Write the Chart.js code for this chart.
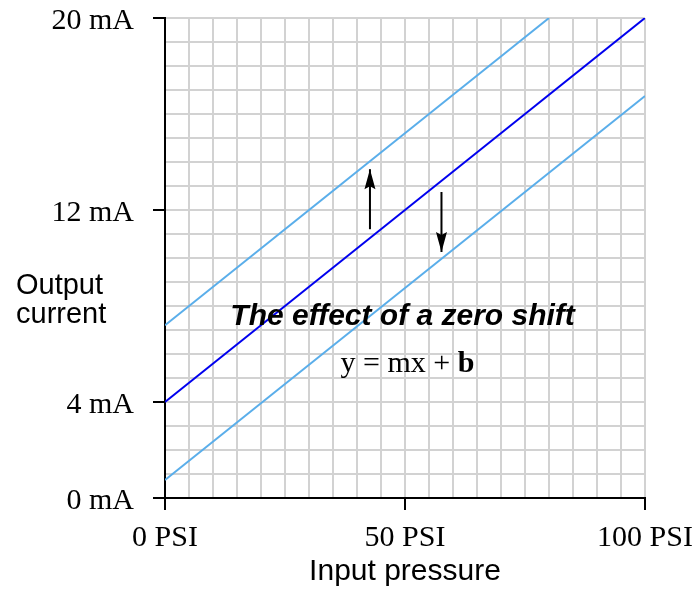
<!DOCTYPE html>
<html>
<head>
<meta charset="utf-8">
<script src="https://cdn.jsdelivr.net/npm/chart.js@4"></script>
<style>
  html, body { margin: 0; padding: 0; background: #fff; }
  canvas { display: block; }
</style>
</head>
<body>
<canvas id="zeroShiftChart" width="694" height="590"></canvas>
<script>
// Данные графика
const xLabelValues = [0, 50, 100];
const xLabelText = ['0 PSI', '50 PSI', '100 PSI'];
const yLabelValues = [0, 4, 12, 20];
const yLabelText = ['0 mA', '4 mA', '12 mA', '20 mA'];

const nominalX = [0, 100];
const nominalY = [4, 20];
const shiftUpX = [0, 80];
const shiftUpY = [7.2, 20];
const shiftDownX = [0, 100];
const shiftDownY = [0.75, 16.75];

const arrowUpX = [42.7, 42.7];
const arrowUpY = [11.2, 13.7];
const arrowDownX = [57.6, 57.6];
const arrowDownY = [12.75, 10.25];

const SERIF = "'Liberation Serif', 'Times New Roman', serif";
const SANS = "'Liberation Sans', Arial, sans-serif";
const GRID = '#d2d2d2';
const DARK_BLUE = '#0000ee';
const LIGHT_BLUE = '#5aaeea';

function points(xs, ys) {
    return xs.map((x, i) => ({ x: x, y: ys[i] }));
}

// Отступы меток не должны сдвигать область графика
function fixPadding(scale) {
    scale.paddingTop = 0;
    scale.paddingBottom = 0;
    scale.paddingLeft = 0;
    scale.paddingRight = 0;
}

// Наконечники стрелок
const arrowHeads = {
    id: 'arrowHeads',
    afterDatasetsDraw(chart) {
        const ctx = chart.ctx;
        chart.data.datasets.forEach((ds, i) => {
            if (!ds.arrow) return;
            const pts = chart.getDatasetMeta(i).data;
            const a = pts[pts.length - 2], b = pts[pts.length - 1];
            const ang = Math.atan2(b.y - a.y, b.x - a.x);
            const len = 20, half = 5.5;
            ctx.save();
            ctx.translate(b.x, b.y);
            ctx.rotate(ang);
            ctx.beginPath();
            ctx.moveTo(0, 0);
            ctx.lineTo(-len, -half);
            ctx.lineTo(-len + 3, 0);
            ctx.lineTo(-len, half);
            ctx.closePath();
            ctx.fillStyle = '#000';
            ctx.fill();
            ctx.restore();
        });
    }
};

// Подписи внутри графика и подпись оси Y
const annotations = {
    id: 'annotations',
    afterDatasetsDraw(chart) {
        const ctx = chart.ctx;
        const x = chart.scales.x, y = chart.scales.y;
        ctx.save();
        ctx.fillStyle = '#000';
        ctx.textAlign = 'center';
        ctx.textBaseline = 'alphabetic';
        ctx.font = 'italic bold 30px ' + SANS;
        ctx.fillText('The effect of a zero shift', x.getPixelForValue(49.5), y.getPixelForValue(7.2));

        // y = mx + b, "b" жирным
        const py = y.getPixelForValue(5.27);
        ctx.font = '30px ' + SERIF;
        const left = 'y = mx + ';
        const wl = ctx.measureText(left).width;
        ctx.font = 'bold 30px ' + SERIF;
        const wb = ctx.measureText('b').width;
        const x0 = x.getPixelForValue(50.5) - (wl + wb) / 2;
        ctx.textAlign = 'left';
        ctx.font = '30px ' + SERIF;
        ctx.fillText(left, x0, py);
        ctx.font = 'bold 30px ' + SERIF;
        ctx.fillText('b', x0 + wl, py);

        ctx.font = '29px ' + SANS;
        ctx.textBaseline = 'middle';
        ctx.fillText('Output', 16, 286);
        ctx.fillText('current', 16, 315);
        ctx.restore();
    }
};

const ctx = document.getElementById('zeroShiftChart').getContext('2d');

new Chart(ctx, {
    type: 'line',
    data: {
        datasets: [
            { data: points(shiftUpX, shiftUpY), borderColor: LIGHT_BLUE, borderWidth: 2 },
            { data: points(shiftDownX, shiftDownY), borderColor: LIGHT_BLUE, borderWidth: 2 },
            { data: points(nominalX, nominalY), borderColor: DARK_BLUE, borderWidth: 2 },
            { data: points(arrowUpX, arrowUpY), borderColor: '#000', borderWidth: 2, arrow: true },
            { data: points(arrowDownX, arrowDownY), borderColor: '#000', borderWidth: 2, arrow: true }
        ]
    },
    options: {
        responsive: false,
        animation: false,
        events: [],
        layout: { padding: { top: 18, right: 49, left: 0, bottom: 0 } },
        elements: { point: { radius: 0 }, line: { tension: 0 } },
        plugins: {
            legend: { display: false },
            tooltip: { enabled: false }
        },
        scales: {
            x: {
                type: 'linear',
                min: 0,
                max: 100,
                afterFit: (scale) => { scale.height = 92; fixPadding(scale); },
                ticks: {
                    stepSize: 5,
                    autoSkip: false,
                    maxRotation: 0,
                    padding: 10,
                    color: '#000',
                    font: { family: SERIF, size: 30 },
                    callback: (v) => {
                        const i = xLabelValues.indexOf(v);
                        return i >= 0 ? xLabelText[i] : '';
                    }
                },
                grid: {
                    lineWidth: 2,
                    color: (c) => c.tick && c.tick.value === 0 ? 'rgba(0,0,0,0)' : GRID,
                    tickLength: 12,
                    tickWidth: 2,
                    tickColor: (c) => c.tick && xLabelValues.includes(c.tick.value) ? '#000' : 'rgba(0,0,0,0)'
                },
                border: { color: '#000', width: 2 },
                title: {
                    display: true,
                    text: 'Input pressure',
                    color: '#000',
                    font: { family: SANS, size: 30 },
                    padding: { top: 0, bottom: 0 }
                }
            },
            y: {
                type: 'linear',
                min: 0,
                max: 20,
                afterFit: (scale) => { scale.width = 165; fixPadding(scale); },
                ticks: {
                    stepSize: 1,
                    autoSkip: false,
                    padding: 19,
                    labelOffset: 3,
                    color: '#000',
                    font: { family: SERIF, size: 30 },
                    callback: (v) => {
                        const i = yLabelValues.indexOf(v);
                        return i >= 0 ? yLabelText[i] : '';
                    }
                },
                grid: {
                    lineWidth: 2,
                    color: (c) => c.tick && c.tick.value === 0 ? 'rgba(0,0,0,0)' : GRID,
                    tickLength: 12,
                    tickWidth: 2,
                    tickColor: (c) => c.tick && yLabelValues.includes(c.tick.value) ? '#000' : 'rgba(0,0,0,0)'
                },
                border: { color: '#000', width: 2 }
            }
        }
    },
    plugins: [arrowHeads, annotations]
});
</script>
</body>
</html>
